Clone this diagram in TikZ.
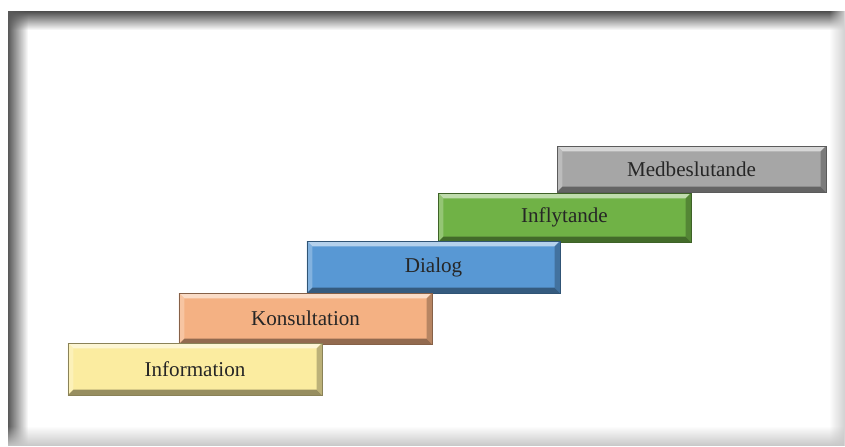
\documentclass[tikz,border=0pt]{standalone}
\usepackage{fontspec}
\setmainfont{Liberation Serif}
\usetikzlibrary{fadings}
\definecolor{infoyellow}{RGB}{251,236,160}
\definecolor{konsorange}{RGB}{244,177,131}
\definecolor{dialogblue}{RGB}{88,152,212}
\definecolor{inflgreen}{RGB}{112,178,70}
\definecolor{medgray}{RGB}{166,166,166}

\begin{document}
\begin{tikzpicture}[x=0.03cm,y=-0.03cm,
    stepbox/.style={fill=#1, draw=#1!55!black, inner sep=0pt,
        font=\fontsize{18}{22}\selectfont, text=black!85,
        path picture={
            \fill[#1!45!white] (path picture bounding box.north west) -- (path picture bounding box.north east)
                -- ([shift={(-1.6mm,-1.6mm)}]path picture bounding box.north east) -- ([shift={(1.6mm,-1.6mm)}]path picture bounding box.north west) -- cycle;
            \fill[#1!75!white] (path picture bounding box.north west) -- ([shift={(1.6mm,-1.6mm)}]path picture bounding box.north west)
                -- ([shift={(1.6mm,1.6mm)}]path picture bounding box.south west) -- (path picture bounding box.south west) -- cycle;
            \fill[#1!60!black] (path picture bounding box.south west) -- (path picture bounding box.south east)
                -- ([shift={(-1.6mm,1.6mm)}]path picture bounding box.south east) -- ([shift={(1.6mm,1.6mm)}]path picture bounding box.south west) -- cycle;
            \fill[#1!75!black] (path picture bounding box.north east) -- ([shift={(-1.6mm,-1.6mm)}]path picture bounding box.north east)
                -- ([shift={(-1.6mm,1.6mm)}]path picture bounding box.south east) -- (path picture bounding box.south east) -- cycle;
        }}]
    \useasboundingbox (0,0) rectangle (845,446);
    % frame with soft shadow
    \fill[white] (8,11) rectangle (845,446);
    \fill[black!70, path fading=south] (8,11) rectangle (845,30);
    \fill[black!65, path fading=east] (8,11) rectangle (28,446);
    \fill[black!18, path fading=west] (829,11) rectangle (845,446);
    \fill[black!22, path fading=north] (8,426) rectangle (845,446);
    % steps
    \node[stepbox=medgray, minimum width=8.07cm, minimum height=1.38cm] (medbeslut) at (691.5,169) {Medbeslutande};
    \node[stepbox=inflgreen, minimum width=7.59cm, minimum height=1.47cm] (inflyt) at (564.5,217.5) {Inflytande};
    \node[stepbox=dialogblue, minimum width=7.59cm, minimum height=1.56cm] (dialog) at (433.5,267) {Dialog};
    \node[stepbox=konsorange, minimum width=7.59cm, minimum height=1.53cm] (konsult) at (305.5,318.5) {Konsultation};
    \node[stepbox=infoyellow, minimum width=7.62cm, minimum height=1.56cm] (info) at (195,369) {Information};
\end{tikzpicture}
\end{document}
